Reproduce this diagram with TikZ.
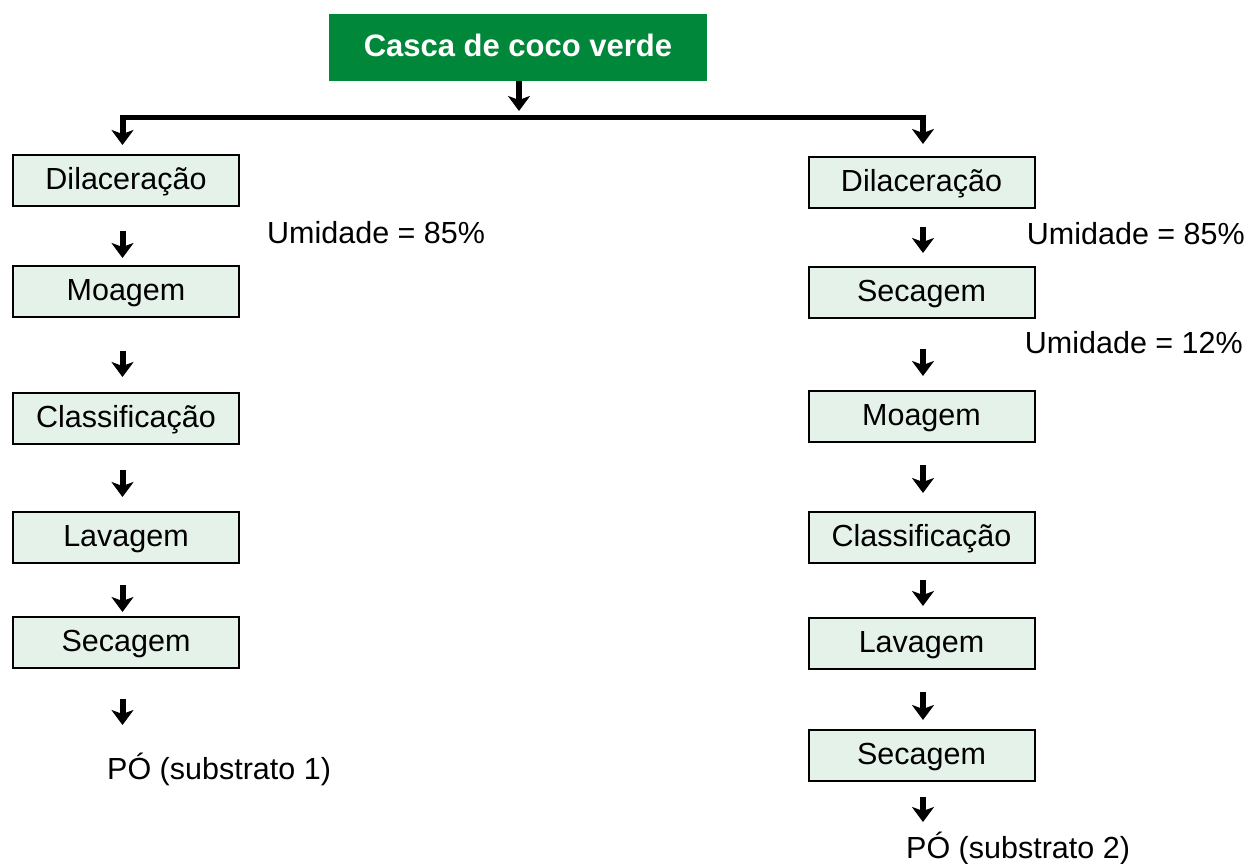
\documentclass[tikz,border=0pt]{standalone}
\usepackage{fontspec}
\setmainfont{Liberation Sans}
\usetikzlibrary{arrows.meta}
\definecolor{cocogreen}{RGB}{0,135,58}
\definecolor{boxfill}{RGB}{229,242,233}
\begin{document}
\begin{tikzpicture}[x=1pt,y=-1pt,
  stepbox/.style={draw=black,line width=2pt,fill=boxfill,minimum width=226pt,minimum height=51pt,inner sep=0pt,text height=22pt,text depth=4pt,font=\fontsize{30.5}{36}\selectfont},
  titlebox/.style={fill=cocogreen,text=white,minimum width=378pt,minimum height=67pt,inner sep=0pt,text height=23pt,text depth=5pt,font=\fontsize{31}{37}\selectfont\bfseries},
  lbl/.style={inner sep=0pt,font=\fontsize{30.5}{36}\selectfont},
  arr/.style={line width=6pt,-{Stealth[width=22pt,length=15pt,inset=4pt]}},
  bar/.style={line width=5pt}]
\useasboundingbox (0,0) rectangle (1248,863);
% title
\node[titlebox] (top) at (518,47) {Casca de coco verde};
\coordinate (t1) at (519,81);
\coordinate (t2) at (519,111);
\draw[arr] (t1) -- (t2);
\coordinate (jl) at (119.5,117);
\coordinate (jr) at (926,117);
\draw[bar] (jl) -- (jr);
% left column
\node[stepbox] (l1) at (126,180) {Dilaceração};
\node[stepbox] (l2) at (126,291) {Moagem};
\node[stepbox] (l3) at (126,418) {Classificação};
\node[stepbox] (l4) at (126,537) {Lavagem};
\node[stepbox] (l5) at (126,642) {Secagem};
\node[lbl,anchor=base west] (u1) at (267,243) {Umidade = 85\%};
\node[lbl,anchor=base west] (p1) at (107,779) {PÓ (substrato 1)};
\coordinate (la0) at (122.5,114.5);
\coordinate (la0e) at (122.5,145);
\draw[arr] (la0) -- (la0e);
\coordinate (la1) at (122.5,231); \coordinate (la1e) at (122.5,258);
\coordinate (la2) at (122.5,351); \coordinate (la2e) at (122.5,377);
\coordinate (la3) at (122.5,470); \coordinate (la3e) at (122.5,497);
\coordinate (la4) at (122.5,585); \coordinate (la4e) at (122.5,612);
\coordinate (la5) at (122.5,699); \coordinate (la5e) at (122.5,725);
\foreach \i in {1,...,5} {\draw[arr] (la\i) -- (la\i e);}
% right column
\node[stepbox] (r1) at (921.5,182) {Dilaceração};
\node[stepbox] (r2) at (921.5,292) {Secagem};
\node[stepbox] (r3) at (921.5,416) {Moagem};
\node[stepbox] (r4) at (921.5,537) {Classificação};
\node[stepbox] (r5) at (921.5,643) {Lavagem};
\node[stepbox] (r6) at (921.5,755) {Secagem};
\node[lbl,anchor=base east] (u2) at (1245,244) {Umidade = 85\%};
\node[lbl,anchor=base east] (u3) at (1243,353) {Umidade = 12\%};
\node[lbl,anchor=base west] (p2) at (906,858) {PÓ (substrato 2)};
\coordinate (ra0) at (923,114.5);
\coordinate (ra0e) at (923,144);
\draw[arr] (ra0) -- (ra0e);
\coordinate (ra1) at (923,227); \coordinate (ra1e) at (923,253);
\coordinate (ra2) at (923,349); \coordinate (ra2e) at (923,376);
\coordinate (ra3) at (923,465); \coordinate (ra3e) at (923,493);
\coordinate (ra4) at (923,580); \coordinate (ra4e) at (923,606);
\coordinate (ra5) at (923,692); \coordinate (ra5e) at (923,720);
\coordinate (ra6) at (923,797); \coordinate (ra6e) at (923,822);
\foreach \i in {1,...,6} {\draw[arr] (ra\i) -- (ra\i e);}
\end{tikzpicture}
\end{document}
